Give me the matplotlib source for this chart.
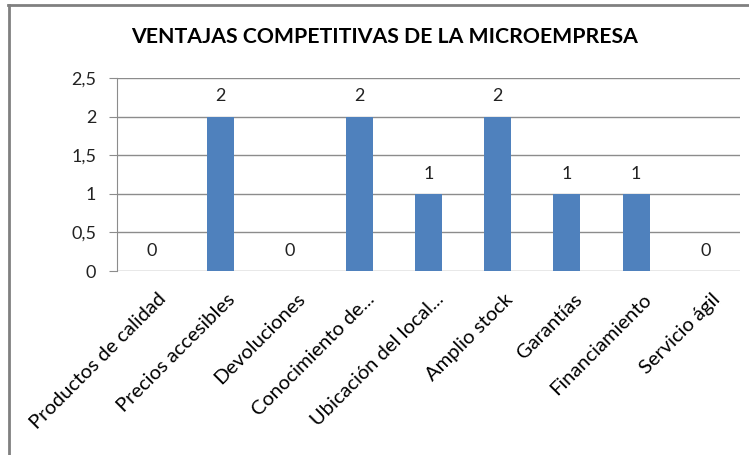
import matplotlib.pyplot as plt
import matplotlib.transforms as mtransforms
from matplotlib.ticker import FuncFormatter

categorias = ['Productos de calidad', 'Precios accesibles', 'Devoluciones',
              'Conocimiento de...', 'Ubicación del local...', 'Amplio stock',
              'Garantías', 'Financiamiento', 'Servicio ágil']
valores = [0, 2, 0, 2, 1, 2, 1, 1, 0]
yticks = [0, 0.5, 1, 1.5, 2, 2.5]

plt.rcParams['font.family'] = ['Lato', 'DejaVu Sans']

fig = plt.figure(figsize=(7.49, 4.55), dpi=100)
ax = fig.add_axes([117/749, 1 - 271/455, (740-117)/749, (271-78)/455])

x = list(range(len(categorias)))
ax.bar(x, valores, width=0.39, color='#4F81BD', zorder=3)
for xi, v in zip(x, valores):
    ax.annotate(str(v), (xi, v), xytext=(0, 14.5), textcoords='offset points',
                ha='center', va='center', fontsize=13, color='#222222')

ax.set_xlim(-0.5, len(categorias) - 0.5)
ax.set_ylim(0, 2.5)
ax.set_yticks(yticks)
ax.yaxis.set_major_formatter(FuncFormatter(lambda v, p: ('%g' % v).replace('.', ',')))
ax.grid(axis='y', color='#8c8c8c', linewidth=1, zorder=0)
ax.set_xticks(x)
ax.set_xticklabels(categorias, rotation=45, ha='right', va='top',
                   rotation_mode='anchor', fontsize=14.5)
ax.tick_params(axis='x', length=0, pad=14)
ax.tick_params(axis='y', labelsize=13, length=6, pad=9, color='#8c8c8c', colors='#222222')
desplaza = mtransforms.ScaledTranslation(6/100, 0, fig.dpi_scale_trans)
for lab in ax.get_xticklabels():
    lab.set_transform(lab.get_transform() + desplaza)
for s in ['top', 'right', 'bottom']:
    ax.spines[s].set_visible(False)
ax.spines['left'].set_color('#8c8c8c')

fig.text(385/749, 1 - 37/455, 'VENTAJAS COMPETITIVAS DE LA MICROEMPRESA',
         ha='center', va='center', fontsize=15.3, fontweight='bold')

# marco del grafico
fig.add_artist(plt.Line2D([8/749, 1], [1 - 4.5/455, 1 - 4.5/455], color='#808080', linewidth=2))
fig.add_artist(plt.Line2D([8.5/749, 8.5/749], [0, 1 - 4.5/455], color='#808080', linewidth=2))

fig.savefig('out.png', dpi=100)
